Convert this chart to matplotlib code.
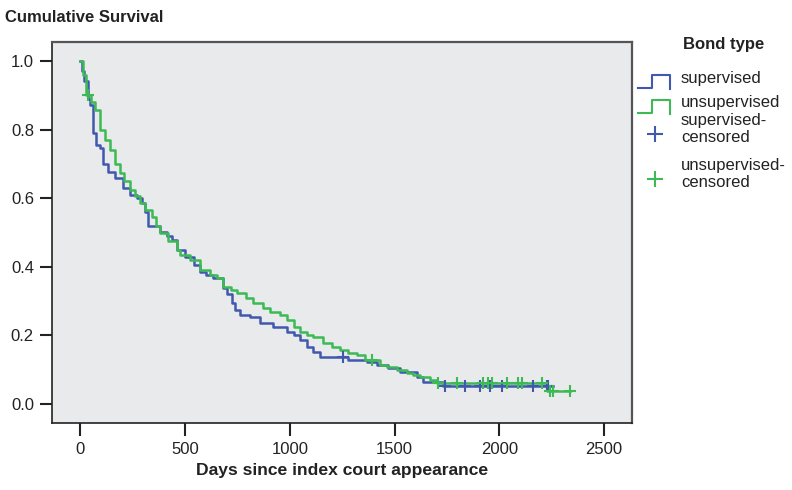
import matplotlib.pyplot as plt
import numpy as np
from matplotlib.lines import Line2D

plt.rcParams['font.family'] = ['Liberation Sans', 'DejaVu Sans']

# supervised: step times (days) and survival after each step
sup_t = [0, 7, 17, 36, 45, 60, 74, 93, 107, 131, 165, 203, 236, 270, 293, 308, 322,
         380, 413, 437, 461, 500, 540, 571, 600, 634, 681, 700, 723, 740, 762, 809,
         857, 920, 986, 1020, 1048, 1081, 1110, 1144, 1278, 1368, 1415, 1470, 1525,
         1606, 1636, 1731]
sup_s = [1.0, 0.97, 0.94, 0.89, 0.87, 0.79, 0.755, 0.746, 0.70, 0.676, 0.66, 0.63,
         0.61, 0.60, 0.586, 0.56, 0.52, 0.50, 0.49, 0.478, 0.45, 0.43, 0.405, 0.385,
         0.375, 0.367, 0.338, 0.32, 0.294, 0.275, 0.26, 0.254, 0.236, 0.224, 0.21,
         0.20, 0.187, 0.166, 0.152, 0.137, 0.128, 0.122, 0.114, 0.105, 0.093, 0.079,
         0.064, 0.052]
sup_end = 2257
sup_cens = [1254, 1741, 1836, 1908, 1956, 2013, 2161, 2228, 2233]

# unsupervised
uns_t = [0, 10, 25, 50, 70, 93, 115, 141, 165, 189, 210, 236, 260, 284, 310, 341,
         360, 380, 420, 461, 475, 523, 571, 618, 652, 681, 720, 747, 790, 824, 870,
         905, 952, 986, 1020, 1048, 1080, 1110, 1158, 1200, 1239, 1280, 1320, 1360,
         1430, 1463, 1510, 1560, 1588, 1621, 1669, 1702, 2228]
uns_s = [1.0, 0.96, 0.90, 0.88, 0.857, 0.80, 0.77, 0.74, 0.70, 0.673, 0.65, 0.624,
         0.605, 0.586, 0.565, 0.545, 0.52, 0.499, 0.475, 0.449, 0.434, 0.42, 0.39,
         0.376, 0.367, 0.341, 0.332, 0.324, 0.31, 0.294, 0.28, 0.268, 0.26, 0.245,
         0.225, 0.21, 0.20, 0.195, 0.178, 0.165, 0.157, 0.15, 0.143, 0.128, 0.114,
         0.108, 0.099, 0.09, 0.085, 0.079, 0.07, 0.062, 0.037]
uns_end = 2338
uns_cens = [36, 1392, 1707, 1798, 1922, 1946, 1965, 2037, 2090, 2109, 2205, 2243,
            2257, 2338]

blue = '#4058ae'
green = '#3dba55'


def level(t, s, when):
    idx = np.searchsorted(t, when, side='right') - 1
    return np.array(s)[idx]


W, H = 792, 490
fig = plt.figure(figsize=(W / 100, H / 100), dpi=100)
ax = fig.add_axes([52 / W, 1 - 423 / H, 580 / W, 381 / H])
ax.set_facecolor('#e9eaec')

ax.step(sup_t + [sup_end], sup_s + [sup_s[-1]], where='post', color=blue, lw=1.8)
ax.step(uns_t + [uns_end], uns_s + [uns_s[-1]], where='post', color=green, lw=1.8)
ax.plot(sup_cens, level(sup_t, sup_s, sup_cens), '+', color=blue, ms=8, mew=1.5)
ax.plot(uns_cens, level(uns_t, uns_s, uns_cens), '+', color=green, ms=8, mew=1.5)

ax.set_xlim(-136, 2634)
ax.set_ylim(-0.055, 1.055)
ax.set_xticks([0, 500, 1000, 1500, 2000, 2500])
ax.set_yticks([0.0, 0.2, 0.4, 0.6, 0.8, 1.0])
ax.set_yticklabels(['0.0', '0.2', '0.4', '0.6', '0.8', '1.0'])
ax.tick_params(length=9, width=1.5, labelsize=12, color='#222222', labelcolor='#222222')
ax.tick_params(axis='y', pad=4)
ax.tick_params(axis='x', pad=5)
for side in ['left', 'bottom']:
    ax.spines[side].set_color('#222222')
    ax.spines[side].set_linewidth(1.2)
for side in ['top', 'right']:
    ax.spines[side].set_color('#555555')
    ax.spines[side].set_linewidth(1.6)

ax.set_xlabel('Days since index court appearance', fontsize=12.6, fontweight='bold',
              color='#222222', labelpad=4)
fig.text(5 / W, 1 - 17 / H, 'Cumulative Survival', fontsize=12, fontweight='bold',
         color='#222222', va='center', ha='left')

# legend drawn by hand
def fx(x):
    return x / W


def fy(y):
    return 1 - y / H


fig.text(fx(683), fy(44), 'Bond type', fontsize=12, fontweight='bold',
         color='#222222', va='center', ha='left')
for dy, col, lab in [(0, blue, 'supervised'), (25, green, 'unsupervised')]:
    xs = [638, 652, 652, 670, 670]
    ys = [88 + dy, 88 + dy, 75 + dy, 75 + dy, 89 + dy]
    fig.add_artist(Line2D([fx(v) for v in xs], [fy(v) for v in ys], color=col,
                          lw=1.5, transform=fig.transFigure))
    fig.text(fx(681), fy(78 + dy), lab, fontsize=12, color='#222222',
             va='center', ha='left')
for yc, col, lab in [(129, blue, 'supervised-\ncensored'),
                     (174, green, 'unsupervised-\ncensored')]:
    fig.add_artist(Line2D([fx(655)], [fy(yc + 5)], marker='+', color=col, ms=11,
                          mew=1.5, transform=fig.transFigure))
    fig.text(fx(681), fy(yc), lab, fontsize=12, color='#222222', va='center',
             ha='left', linespacing=1.12)

fig.savefig('out.png', dpi=100, facecolor='white')
